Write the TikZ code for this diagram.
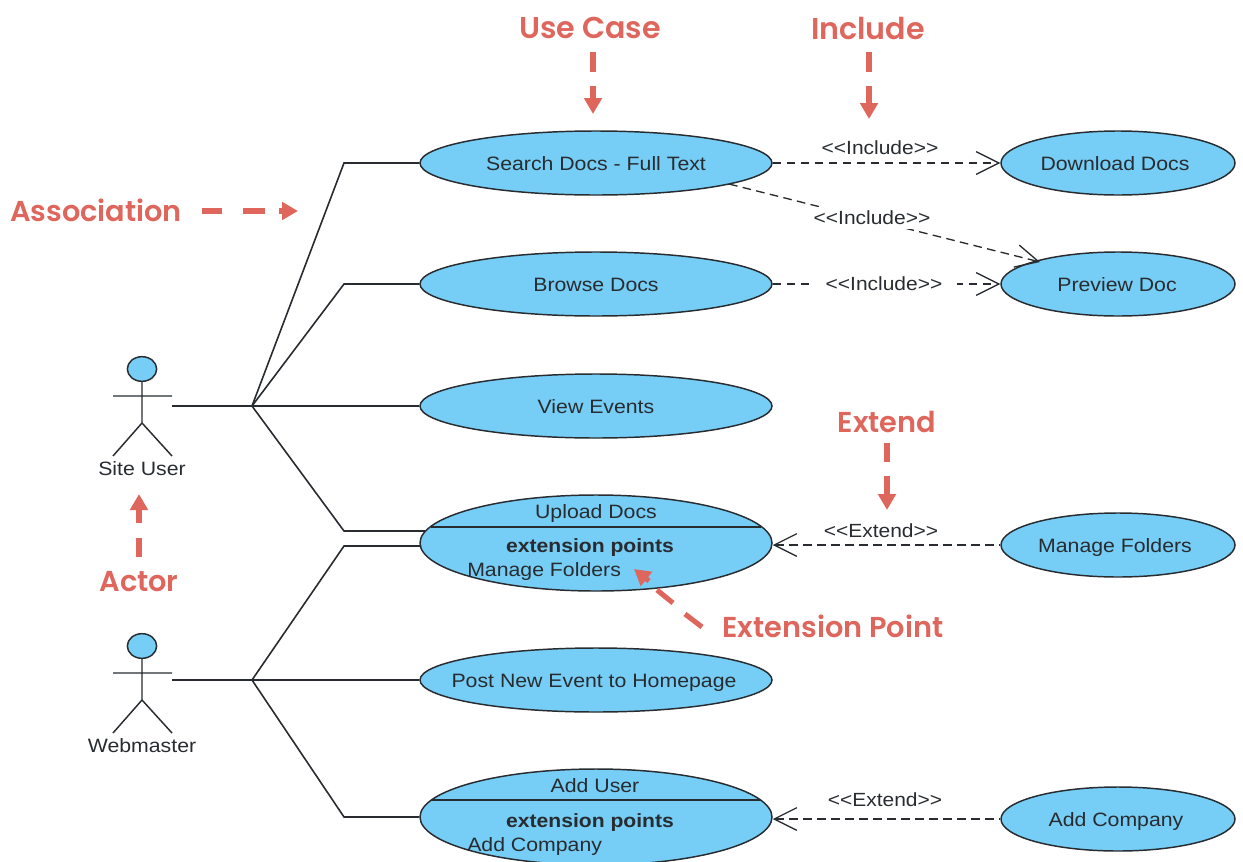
\documentclass[tikz,border=0pt]{standalone}
\usepackage{fontspec}
\setmainfont[FakeStretch=1.1]{Liberation Sans}
\newfontfamily\notefont[BoldFont={Poppins SemiBold}]{Poppins}
\usetikzlibrary{shapes.geometric,arrows.meta}
\definecolor{ucfill}{RGB}{118,205,245}
\definecolor{ink}{RGB}{40,44,48}
\definecolor{note}{RGB}{222,102,92}
\tikzset{
  x=0.75pt,y=-0.75pt,
  usecase/.style={ellipse,draw=ink,fill=ucfill,line width=1.1pt,inner sep=0pt,minimum width=264pt,minimum height=48pt},
  smallcase/.style={usecase,minimum width=175.5pt},
  bigcase/.style={usecase,minimum height=72pt},
  uctext/.style={font=\fontsize{14.5}{17}\selectfont,text=ink,inner sep=0pt,text height=11.5pt,text depth=0pt},
  uctextb/.style={uctext,font=\fontsize{14.4}{17}\selectfont\bfseries},
  stereo/.style={font=\fontsize{14.3}{16}\selectfont,text=ink,inner sep=1pt,text height=10.4pt,text depth=0pt},
  gapstereo/.style={stereo,fill=white,inner ysep=3pt},
  assoc/.style={draw=ink,line width=1.2pt},
  depdash/.style={dash pattern=on 6.5pt off 4pt},
  tiptarget/.style={draw=ink,line width=1pt,depdash,-{Straight Barb[length=17pt,width=17pt]}},
  tipsource/.style={draw=ink,line width=1pt,depdash,{Straight Barb[length=17pt,width=17pt]}-},
  notetext/.style={font=\notefont\fontsize{21.6}{25}\selectfont\bfseries,text=note,inner sep=0pt},
  notetextw/.style={notetext,font=\notefont\fontsize{22.6}{25}\selectfont\bfseries},
  notedash/.style={draw=note,line width=3.8pt},
  notearrow/.style={draw=note,line width=3.8pt,-{Triangle[length=12pt,width=13pt]}},
  actorline/.style={draw=ink,line width=1.1pt},
  actorhead/.style={ellipse,draw=ink,fill=ucfill,line width=1.1pt,inner sep=0pt,minimum width=22pt,minimum height=18.5pt},
}
\begin{document}
\begin{tikzpicture}
\useasboundingbox (0,0) rectangle (1243,861);
\clip (0,0) rectangle (1243,861);
% use cases
\node[usecase] (search) at (596,163) {};
\node[usecase] (browse) at (596,284) {};
\node[usecase] (view) at (596,406) {};
\node[bigcase] (upload) at (596,543) {};
\node[usecase] (post) at (596,680) {};
\node[bigcase] (adduser) at (596,817) {};
\node[smallcase] (download) at (1118,163) {};
\node[smallcase] (preview) at (1118,284) {};
\node[smallcase] (manage) at (1118,545) {};
\node[smallcase] (addco) at (1118,819) {};
\node[uctext] (t1) at (596,163) {Search Docs - Full Text};
\node[uctext] (t2) at (596,284) {Browse Docs};
\node[uctext] (t3) at (596,406) {View Events};
\node[uctext] (t4) at (596,511) {Upload Docs};
\node[uctextb] (t5) at (590,545) {extension points};
\node[uctext,anchor=west] (t6) at (467,569) {Manage Folders};
\node[uctext] (t7) at (594,680) {Post New Event to Homepage};
\node[uctext] (t8) at (595,785) {Add User};
\node[uctextb] (t9) at (590,820) {extension points};
\node[uctext,anchor=west] (t10) at (467,844) {Add Company};
\node[uctext] (t11) at (1115,163) {Download Docs};
\node[uctext] (t12) at (1117,284) {Preview Doc};
\node[uctext] (t13) at (1115,545) {Manage Folders};
\node[uctext] (t14) at (1116,819) {Add Company};
\draw[assoc] (431,527) -- (761,527);
\draw[assoc] (431,800) -- (761,800);
% actors
\draw[actorline] (142,381) -- (142,423) (113,396) -- (172,396) (113,456) -- (142,423) -- (172,456);
\node[actorhead] (a1) at (142,369) {};
\draw[actorline] (142,658) -- (142,700) (113,673) -- (172,673) (113,733) -- (142,700) -- (172,733);
\node[actorhead] (a2) at (142,646) {};
\node[uctext] (siteuser) at (142,468) {Site User};
\node[uctext] (webmaster) at (142,745) {Webmaster};
% associations
\coordinate (s1) at (172,406);
\coordinate (s2) at (172,680);
\coordinate (j1) at (252,406);
\coordinate (j2) at (252,680);
\coordinate (e1) at (344,163);
\coordinate (e2) at (344,284);
\coordinate (e3) at (344,531);
\coordinate (e4) at (344,546);
\coordinate (e5) at (344,817);
\coordinate (u1) at (425,531);
\coordinate (u2) at (421,546);
\draw[assoc] (s1) -- (j1) -- (view.west);
\draw[assoc] (j1) -- (e1) -- (search.west);
\draw[assoc] (j1) -- (e2) -- (browse.west);
\draw[assoc] (j1) -- (e3) -- (u1);
\draw[assoc] (s2) -- (j2) -- (post.west);
\draw[assoc] (j2) -- (e4) -- (u2);
\draw[assoc] (j2) -- (e5) -- (adduser.west);
% dependencies
\coordinate (sp) at (729,184);
\coordinate (pp) at (1040,262);
\draw[tiptarget] (search.east) -- (download.west);
\draw[tiptarget] (sp) -- (pp);
\draw[tiptarget] (browse.east) -- (preview.west);
\draw[tipsource] (upload.east |- manage.west) -- (manage.west);
\draw[tipsource] (adduser.east |- addco.west) -- (addco.west);
\node[stereo] (l1) at (880,148) {<{}<Include>{}>};
\node[gapstereo] (l2) at (872,218) {<{}<Include>{}>};
\node[gapstereo,inner xsep=11pt] (l3) at (884,284) {<{}<Include>{}>};
\node[stereo] (l4) at (881,531) {<{}<Extend>{}>};
\node[stereo] (l5) at (885,800) {<{}<Extend>{}>};
% annotations
\node[notetextw] (n1) at (590,28) {Use Case};
\node[notetextw] (n2) at (868,28) {Include};
\node[notetext] (n3) at (96,210) {Association};
\node[notetext] (n4) at (887,422) {Extend};
\node[notetext] (n5) at (139,582) {Actor};
\node[notetext] (n6) at (833,626) {Extension Point};
\coordinate (a) at (593,52); \coordinate (b) at (593,72); \coordinate (c) at (593,86); \coordinate (d) at (593,114);
\draw[notedash] (a) -- (b); \draw[notearrow] (c) -- (d);
\coordinate (a) at (869,52); \coordinate (b) at (869,72); \coordinate (c) at (869,86); \coordinate (d) at (869,119);
\draw[notedash] (a) -- (b); \draw[notearrow] (c) -- (d);
\coordinate (a) at (202,211); \coordinate (b) at (222,211); \coordinate (c) at (243,211); \coordinate (b2) at (265,211); \coordinate (c2) at (279,211); \coordinate (d) at (298,211);
\draw[notedash] (a) -- (b); \draw[notedash] (c) -- (b2); \draw[notearrow] (c2) -- (d);
\coordinate (a) at (887,443); \coordinate (b) at (887,462); \coordinate (c) at (887,476); \coordinate (d) at (887,510);
\draw[notedash] (a) -- (b); \draw[notearrow] (c) -- (d);
\coordinate (a) at (139,557); \coordinate (b) at (139,538); \coordinate (c) at (139,523); \coordinate (d) at (139,494);
\draw[notedash] (a) -- (b); \draw[notearrow] (c) -- (d);
\coordinate (a) at (702,627); \coordinate (b) at (685,614); \coordinate (c) at (673,603); \coordinate (c2) at (657,590); \coordinate (c3) at (649,581); \coordinate (d) at (634,569);
\draw[notedash] (a) -- (b); \draw[notedash] (c) -- (c2); \draw[notearrow] (c3) -- (d);
\end{tikzpicture}
\end{document}
